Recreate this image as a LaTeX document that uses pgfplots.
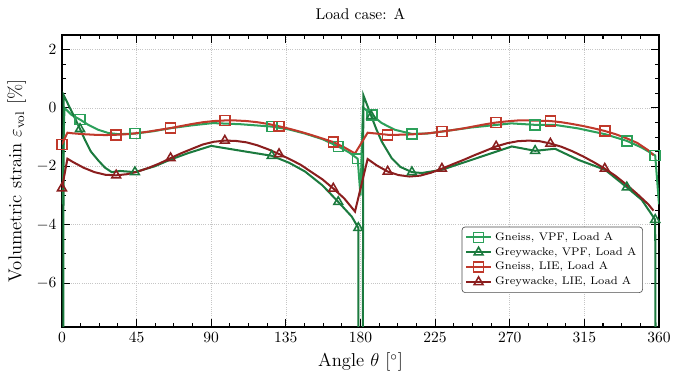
\documentclass[border=0pt]{standalone}
\usepackage{pgfplots}
\pgfplotsset{compat=1.18}
\definecolor{gvpf}{RGB}{44,160,90}
\definecolor{wvpf}{RGB}{27,122,62}
\definecolor{glie}{RGB}{192,57,43}
\definecolor{wlie}{RGB}{139,30,30}
\begin{document}
\begin{tikzpicture}
\begin{axis}[
  scale only axis, width=384.5pt, height=188pt,
  xmin=0, xmax=360, ymin=-7.5, ymax=2.5,
  xtick={0,45,...,360}, ytick={-6,-4,...,2},
  minor x tick num=3, minor y tick num=3,
  tick align=inside, xtick pos=both, ytick pos=both,
  major tick length=5pt, minor tick length=2.8pt,
  every tick/.style={black, line width=0.7pt},
  axis line style={line width=0.9pt},
  grid=major, grid style={densely dotted, gray!45, line width=0.4pt},
  title={Load case: A},
  xlabel={Angle $\theta$ [$^\circ$]},
  ylabel={Volumetric strain $\varepsilon_{\mathrm{vol}}$ [\%]},
  label style={font=\large},
  legend cell align=left,
  legend style={at={(0.973,0.1164)}, anchor=south east,
    font=\fontsize{7.1}{8.5}\selectfont, draw=black!70, rounded corners=2pt,
    fill=white, inner xsep=2pt, inner ysep=1.5pt, row sep=-1pt},
  legend image code/.code={\draw[mark indices={2}] plot coordinates {(0pt,0pt) (8pt,0pt) (16pt,0pt)};},
]
% Gneiss, VPF
\addplot[color=gvpf, line width=1.3pt, mark=square, mark size=3.2pt,
  mark options={solid, line width=1pt}, mark indices={4,9,15,19,21,24,27,32,36,38}]
coordinates {
(0,-3.3) (1.5,0.0) (5.8,-0.24) (10.9,-0.40) (15.9,-0.58) (21.9,-0.75)
(28,-0.86) (34,-0.90) (44,-0.88) (55,-0.80) (65,-0.70) (78,-0.60)
(91,-0.52) (108,-0.56) (126.5,-0.64) (137,-0.74) (146.6,-0.88) (157,-1.07)
(166.6,-1.32) (173,-1.52) (178.3,-1.74) (180,-3.0) (181.5,0.02) (186.8,-0.24)
(192.8,-0.52) (200.8,-0.75) (211,-0.89) (220,-0.88) (229,-0.81) (247,-0.67)
(271,-0.53) (285.3,-0.58) (297,-0.58) (311,-0.70) (327.5,-0.90) (340.6,-1.13)
(349.6,-1.36) (357.7,-1.63) (360,-3.3)
};
\addlegendentry{Gneiss, VPF, Load A}
% Greywacke, VPF (marks counted among the points inside the axis)
\addplot[color=wvpf, line width=1.3pt, mark=triangle, mark size=3.3pt,
  mark options={solid, line width=1pt}, mark indices={4,11,17,21,23,26,31,36,40,42}]
coordinates {
(0,-50) (1.0,0.44) (3.5,0.15) (7.8,-0.35) (10.9,-0.72) (13.9,-1.10)
(17.5,-1.50) (21.9,-1.80) (26,-2.05) (30,-2.20) (35,-2.16) (44,-2.20)
(56,-2.00) (65,-1.78) (76,-1.55) (90,-1.30) (108,-1.47) (126.5,-1.64)
(137,-1.88) (146.6,-2.18) (157,-2.65) (166.6,-3.22) (174.7,-3.72) (178.7,-4.11)
(180,-50) (181.7,0.44) (184,0.10) (186.5,-0.28) (189.5,-0.72) (192.8,-1.15)
(198.8,-1.72) (204,-2.02) (211,-2.20) (217,-2.23) (229,-2.12) (247,-1.78)
(271.2,-1.32) (285.3,-1.47) (297.3,-1.40) (311.4,-1.78) (327.5,-2.12) (340.6,-2.72)
(349.6,-3.15) (357.7,-3.83) (360,-50)
};
\addlegendentry{Greywacke, VPF, Load A}
% Gneiss, LIE
\addplot[color=glie, line width=1.3pt, mark=square, mark size=3.2pt,
  mark options={solid, line width=1pt}, mark indices={1,7,12,17,22,27,32,37,42,47,52}]
coordinates {
(0,-1.25) (3.3,-0.85) (6.5,-0.87) (13.1,-0.90) (19.6,-0.92) (26.2,-0.93)
(32.7,-0.92) (39.3,-0.90) (45.8,-0.86) (52.4,-0.81) (58.9,-0.75) (65.5,-0.69)
(72.0,-0.62) (78.5,-0.55) (85.1,-0.49) (91.6,-0.45) (98.2,-0.43) (104.7,-0.43)
(111.3,-0.45) (117.8,-0.49) (124.4,-0.55) (130.9,-0.63) (137.5,-0.72) (144.0,-0.82)
(150.5,-0.93) (157.1,-1.05) (163.6,-1.17) (170.2,-1.35) (176.7,-1.56) (184.3,-0.85)
(189.8,-0.88) (196.4,-0.92) (202.9,-0.92) (209.5,-0.91) (216.0,-0.89) (222.5,-0.86)
(229.1,-0.81) (235.6,-0.76) (242.2,-0.70) (248.7,-0.63) (255.3,-0.56) (261.8,-0.50)
(268.4,-0.46) (274.9,-0.43) (281.5,-0.43) (288.0,-0.44) (294.5,-0.45) (301.1,-0.49)
(307.6,-0.55) (314.2,-0.62) (320.7,-0.70) (327.3,-0.79) (333.8,-0.90) (340.4,-1.04)
(346.9,-1.20) (353.5,-1.45) (356.7,-1.62)
};
\addlegendentry{Gneiss, LIE, Load A}
% Greywacke, LIE
\addplot[color=wlie, line width=1.3pt, mark=triangle, mark size=3.3pt,
  mark options={solid, line width=1pt}, mark indices={1,7,12,17,22,27,32,37,42,47,52}]
coordinates {
(0,-2.75) (3.3,-1.74) (6.5,-1.85) (13.1,-2.05) (19.6,-2.20) (26.2,-2.29)
(32.7,-2.31) (39.3,-2.27) (45.8,-2.18) (52.4,-2.05) (58.9,-1.90) (65.5,-1.72)
(72.0,-1.55) (78.5,-1.40) (85.1,-1.25) (91.6,-1.16) (98.2,-1.12) (104.7,-1.13)
(111.3,-1.18) (117.8,-1.28) (124.4,-1.42) (130.9,-1.58) (137.5,-1.76) (144.0,-1.95)
(150.5,-2.20) (157.1,-2.45) (163.6,-2.76) (170.2,-3.10) (176.7,-3.55) (184.3,-1.75)
(189.8,-1.97) (196.4,-2.18) (202.9,-2.30) (209.5,-2.35) (216.0,-2.32) (222.5,-2.22)
(229.1,-2.08) (235.6,-1.93) (242.2,-1.78) (248.7,-1.62) (255.3,-1.47) (261.8,-1.32)
(268.4,-1.21) (274.9,-1.14) (281.5,-1.12) (288.0,-1.14) (294.5,-1.22) (301.1,-1.33)
(307.6,-1.48) (314.2,-1.66) (320.7,-1.86) (327.3,-2.08) (333.8,-2.33) (340.4,-2.63)
(346.9,-2.95) (353.5,-3.30) (356.7,-3.52)
};
\addlegendentry{Greywacke, LIE, Load A}
\end{axis}
\pgfresetboundingbox
\path ([xshift=-39.9pt,yshift=-36.7pt]current axis.south west) rectangle ([xshift=16.1pt,yshift=22.5pt]current axis.north east);
\end{tikzpicture}
\end{document}
